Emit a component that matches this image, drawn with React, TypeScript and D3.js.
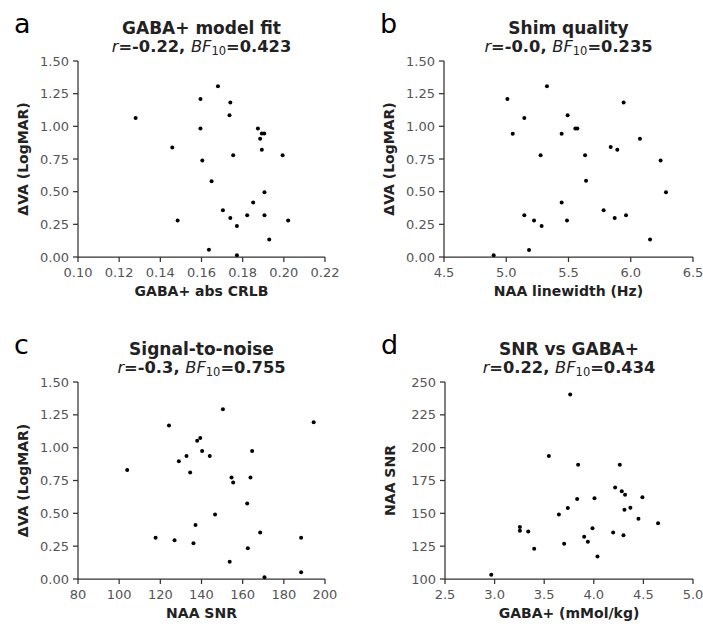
import * as d3 from 'd3';

// panel a: GABA+ abs CRLB vs dVA
const crlbX = [0.128, 0.1458, 0.1484, 0.1595, 0.1595, 0.1604, 0.1636, 0.1649, 0.168, 0.1704, 0.174, 0.1736, 0.174, 0.1754, 0.1772, 0.1772, 0.1822, 0.1851, 0.1874, 0.1885, 0.1893, 0.1905, 0.1893, 0.1906, 0.1906, 0.1929, 0.1994, 0.2021];
const crlbY = [1.063, 0.838, 0.279, 1.209, 0.984, 0.739, 0.056, 0.58, 1.306, 0.358, 1.183, 1.084, 0.299, 0.779, 0.238, 0.013, 0.319, 0.417, 0.984, 0.905, 0.946, 0.946, 0.82, 0.496, 0.319, 0.133, 0.779, 0.279];

// panel b: NAA linewidth vs dVA
const lwX = [4.899, 5.009, 5.052, 5.145, 5.145, 5.223, 5.183, 5.276, 5.284, 5.327, 5.445, 5.445, 5.493, 5.488, 5.555, 5.571, 5.633, 5.641, 5.782, 5.839, 5.871, 5.892, 5.943, 5.962, 6.074, 6.155, 6.24, 6.283];
const lwY = [0.013, 1.209, 0.943, 1.063, 0.319, 0.279, 0.054, 0.779, 0.238, 1.306, 0.943, 0.417, 1.084, 0.279, 0.984, 0.984, 0.779, 0.583, 0.358, 0.841, 0.299, 0.82, 1.183, 0.319, 0.905, 0.133, 0.739, 0.496];

// panel c: NAA SNR vs dVA
const snrX = [103.9, 117.7, 124.2, 126.9, 129.0, 132.7, 134.5, 136.1, 137.1, 137.9, 139.4, 140.3, 144.0, 146.6, 150.4, 153.7, 154.6, 155.4, 162.2, 162.5, 163.8, 164.6, 168.5, 170.6, 188.4, 188.4, 194.5];
const snrY = [0.83, 0.314, 1.169, 0.296, 0.896, 0.936, 0.81, 0.273, 0.412, 1.052, 1.073, 0.974, 0.936, 0.491, 1.293, 0.132, 0.772, 0.734, 0.574, 0.235, 0.772, 0.974, 0.354, 0.013, 0.314, 0.051, 1.194];

// panel d: GABA+ vs NAA SNR
const gabaX = [2.966, 3.255, 3.255, 3.339, 3.399, 3.547, 3.648, 3.701, 3.738, 3.762, 3.832, 3.842, 3.903, 3.94, 3.987, 4.007, 4.037, 4.195, 4.215, 4.262, 4.282, 4.299, 4.315, 4.309, 4.369, 4.45, 4.49, 4.648];
const gabaY = [103.3, 139.5, 136.7, 136.2, 123.0, 193.6, 149.1, 126.8, 154.1, 240.4, 161.0, 187.0, 132.1, 128.3, 138.7, 161.5, 117.2, 135.4, 169.7, 187.0, 166.9, 133.4, 164.1, 152.7, 154.2, 145.8, 162.3, 142.5];

const letters = ['a', 'b', 'c', 'd'];
const titles = ['GABA+ model fit', 'Shim quality', 'Signal-to-noise', 'SNR vs GABA+'];
const rValues = ['-0.22', '-0.0', '-0.3', '0.22'];
const bfValues = ['0.423', '0.235', '0.755', '0.434'];
const xLabels = ['GABA+ abs CRLB', 'NAA linewidth (Hz)', 'NAA SNR', 'GABA+ (mMol/kg)'];
const yLabels = ['ΔVA (LogMAR)', 'ΔVA (LogMAR)', 'ΔVA (LogMAR)', 'NAA SNR'];
const xTicks = [
  [0.10, 0.12, 0.14, 0.16, 0.18, 0.20, 0.22],
  [4.5, 5.0, 5.5, 6.0, 6.5],
  [80, 100, 120, 140, 160, 180, 200],
  [2.5, 3.0, 3.5, 4.0, 4.5, 5.0],
];
const vaTicks = [0, 0.25, 0.5, 0.75, 1.0, 1.25, 1.5];
const snrTicks = [100, 125, 150, 175, 200, 225, 250];
const yTicks = [vaTicks, vaTicks, vaTicks, snrTicks];
const xFormats = ['.2f', '.1f', 'd', '.1f'];
const yFormats = ['.2f', '.2f', '.2f', 'd'];
const xs = [crlbX, lwX, snrX, gabaX];
const ys = [crlbY, lwY, snrY, gabaY];

const font = '"DejaVu Sans", sans-serif';
const ink = '#222';
const tickInk = '#555';

// plot rectangles
const boxes = [
  { x0: 78, x1: 325, y0: 61, y1: 257 },
  { x0: 444, x1: 693, y0: 61, y1: 257 },
  { x0: 78, x1: 325, y0: 382, y1: 579 },
  { x0: 445, x1: 693, y0: 382, y1: 579 },
];

function Panel({ i }: { i: number }) {
  const b = boxes[i];
  const xt = xTicks[i];
  const yt = yTicks[i];
  const x = d3.scaleLinear().domain([xt[0], xt[xt.length - 1]]).range([b.x0, b.x1]);
  const y = d3.scaleLinear().domain([yt[0], yt[yt.length - 1]]).range([b.y1, b.y0]);
  const fx = d3.format(xFormats[i]);
  const fy = d3.format(yFormats[i]);
  const cx = (b.x0 + b.x1) / 2;
  const cy = (b.y0 + b.y1) / 2;
  return (
    <g fontFamily={font}>
      <text x={b.x0 - 64} y={b.y0 - 28} fontSize={27} fill="#000">{letters[i]}</text>
      <text x={cx} y={b.y0 - 27} textAnchor="middle" fontSize={17} fontWeight="bold" fill={ink}>{titles[i]}</text>
      <text x={cx} y={b.y0 - 9} textAnchor="middle" fontSize={16.3} fontWeight="bold" fill={ink}>
        <tspan fontStyle="italic" fontWeight="normal">r</tspan>
        <tspan>={rValues[i]}, </tspan>
        <tspan fontStyle="italic" fontWeight="normal">BF</tspan>
        <tspan fontWeight="normal" fontSize={11.5} dy={3}>10</tspan>
        <tspan dy={-3}>={bfValues[i]}</tspan>
      </text>
      {/* spines */}
      <path d={`M${b.x0},${b.y0}V${b.y1}H${b.x1}`} fill="none" stroke="#333" strokeWidth={1.25} />
      {xt.map(t => (
        <g key={'x' + t}>
          <line x1={x(t)} x2={x(t)} y1={b.y1} y2={b.y1 + 5} stroke="#333" strokeWidth={1.25} />
          <text x={x(t)} y={b.y1 + 20} textAnchor="middle" fontSize={13} fill={tickInk}>{fx(t)}</text>
        </g>
      ))}
      {yt.map(t => (
        <g key={'y' + t}>
          <line x1={b.x0 - 5} x2={b.x0} y1={y(t)} y2={y(t)} stroke="#333" strokeWidth={1.25} />
          <text x={b.x0 - 9} y={y(t)} dy="0.35em" textAnchor="end" fontSize={13} fill={tickInk}>{fy(t)}</text>
        </g>
      ))}
      <text x={cx} y={b.y1 + 39} textAnchor="middle" fontSize={14} fontWeight="bold" fill={ink}>{xLabels[i]}</text>
      <text transform={`translate(${b.x0 - 50},${cy}) rotate(-90)`} textAnchor="middle" fontSize={14} fontWeight="bold" fill={ink}>{yLabels[i]}</text>
      {xs[i].map((v, k) => (
        <circle key={k} cx={x(v)} cy={y(ys[i][k])} r={2} fill="#000" />
      ))}
    </g>
  );
}

export default function App() {
  return (
    <svg width={703} height={626} style={{ position: 'absolute', left: 0, top: 0, background: '#fff' }}>
      <rect width={703} height={626} fill="#fff" />
      {[0, 1, 2, 3].map(i => <Panel key={i} i={i} />)}
    </svg>
  );
}
